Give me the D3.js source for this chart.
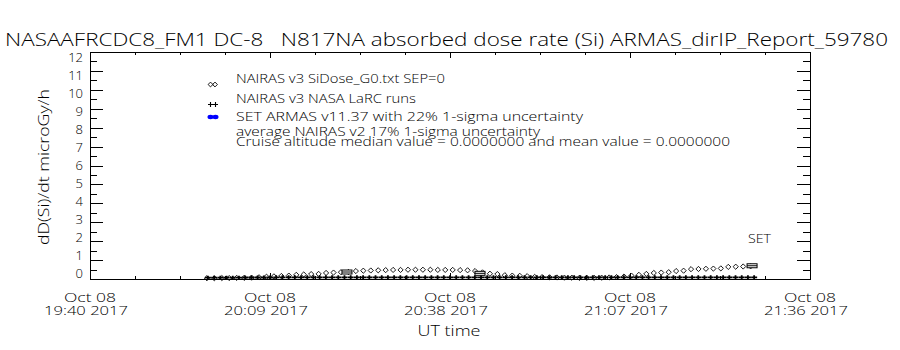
<!DOCTYPE html>
<html>
<head>
<meta charset="utf-8">
<script src="https://cdn.jsdelivr.net/npm/d3@7"></script>
<style>
  body { margin: 0; background: #fff; }
  svg { display: block; }
  text { font-family: "Open Sans", "Liberation Sans", Arial, sans-serif; font-weight: 300; fill: #000; white-space: pre; }
</style>
</head>
<body>
<svg id="chart" width="900" height="350"></svg>
<script>
// ---- chart text ----
const titleText = "NASAAFRCDC8_FM1 DC-8   N817NA absorbed dose rate (Si) ARMAS_dirIP_Report_59780";
const yAxisTitle = "dD(Si)/dt microGy/h";
const xAxisTitle = "UT time";
const setLabel = "SET";

// ---- axes ----
const yTickValues = [0, 1, 2, 3, 4, 5, 6, 7, 8, 9, 10, 11, 12];
const xTickTimes = ["19:40", "20:09", "20:38", "21:07", "21:36"];
const xTickDate = "Oct 08";
const xTickYear = "2017";

// ---- legend ----
const legendLabels = [
  "NAIRAS v3 SiDose_G0.txt SEP=0",
  "NAIRAS v3 NASA LaRC runs",
  "SET ARMAS v11.37 with 22% 1-sigma uncertainty"
];
const noteLines = [
  "average NAIRAS v2 17% 1-sigma uncertainty",
  "Cruise altitude median value = 0.0000000 and mean value = 0.0000000"
];

// ---- NAIRAS v3 SiDose (diamonds) ----
const nairasTimes = [
  "19:58:50","20:00:02","20:01:14","20:02:26","20:03:38","20:04:50","20:06:02","20:07:14",
  "20:08:26","20:09:38","20:10:50","20:12:02","20:13:14","20:14:26","20:15:38","20:16:50",
  "20:18:02","20:19:14","20:20:26","20:21:38","20:22:50","20:24:02","20:25:14","20:26:26",
  "20:27:38","20:28:50","20:30:02","20:31:14","20:32:26","20:33:38","20:34:50","20:36:02",
  "20:37:14","20:38:26","20:39:38","20:40:50","20:42:02","20:43:14","20:44:26","20:45:38",
  "20:46:50","20:48:02","20:49:14","20:50:26","20:51:38","20:52:50","20:54:02","20:55:14",
  "20:56:26","20:57:38","20:58:50","21:00:02","21:01:14","21:02:26","21:03:38","21:04:50",
  "21:06:02","21:07:14","21:08:26","21:09:38","21:10:50","21:12:02","21:13:14","21:14:26",
  "21:15:38","21:16:50","21:18:02","21:19:14","21:20:26","21:21:38","21:22:50","21:24:02",
  "21:25:14","21:26:26"
];
const nairasDose = [
  0.04,0.04,0.05,0.05,0.06,0.06,0.07,0.09,
  0.12,0.14,0.16,0.18,0.22,0.24,0.26,0.27,
  0.32,0.34,0.36,0.37,0.42,0.44,0.45,0.46,
  0.47,0.48,0.48,0.49,0.49,0.49,0.49,0.48,
  0.48,0.48,0.47,0.46,0.42,0.35,0.28,0.26,
  0.20,0.18,0.17,0.15,0.11,0.10,0.09,0.08,
  0.07,0.07,0.06,0.06,0.06,0.07,0.08,0.10,
  0.13,0.18,0.22,0.27,0.32,0.34,0.36,0.42,
  0.44,0.52,0.53,0.54,0.55,0.56,0.64,0.65,
  0.66,0.67
];

// ---- NAIRAS v3 NASA LaRC runs (crosses, one per minute) ----
const larcTimes = [
  "19:59","20:00","20:01","20:02","20:03","20:04","20:05","20:06","20:07","20:08",
  "20:09","20:10","20:11","20:12","20:13","20:14","20:15","20:16","20:17","20:18",
  "20:19","20:20","20:21","20:22","20:23","20:24","20:25","20:26","20:27","20:28",
  "20:29","20:30","20:31","20:32","20:33","20:34","20:35","20:36","20:37","20:38",
  "20:39","20:40","20:41","20:42","20:43","20:44","20:45","20:46","20:47","20:48",
  "20:49","20:50","20:51","20:52","20:53","20:54","20:55","20:56","20:57","20:58",
  "20:59","21:00","21:01","21:02","21:03","21:04","21:05","21:06","21:07","21:08",
  "21:09","21:10","21:11","21:12","21:13","21:14","21:15","21:16","21:17","21:18",
  "21:19","21:20","21:21","21:22","21:23","21:24","21:25","21:26","21:27"
];
const larcDose = [
  0.07,0.07,0.07,0.07,0.07,0.07,0.08,0.08,0.08,0.08,
  0.08,0.09,0.09,0.09,0.09,0.09,0.09,0.09,0.09,0.09,
  0.09,0.09,0.09,0.09,0.09,0.09,0.09,0.09,0.09,0.09,
  0.09,0.09,0.09,0.09,0.09,0.09,0.09,0.09,0.09,0.09,
  0.09,0.09,0.09,0.09,0.09,0.09,0.09,0.09,0.09,0.09,
  0.09,0.09,0.09,0.09,0.09,0.09,0.09,0.09,0.09,0.09,
  0.09,0.09,0.09,0.09,0.09,0.09,0.09,0.09,0.09,0.09,
  0.09,0.09,0.09,0.09,0.09,0.09,0.09,0.09,0.09,0.09,
  0.09,0.09,0.09,0.09,0.09,0.09,0.09,0.09,0.09
];

// ---- SET ARMAS measurements ----
const armasTimes = ["20:21:24", "20:42:50", "21:26:40"];
const armasDose = [0.37, 0.30, 0.70];

// ---- layout ----
const svg = d3.select("#chart");
const M = { left: 90, right: 810, top: 52, bottom: 279 };
const day = "2017-10-08T";
const parseT = s => new Date(day + (s.length === 5 ? s + ":00" : s) + "Z");

const x = d3.scaleUtc()
  .domain([parseT(xTickTimes[0]), parseT(xTickTimes[xTickTimes.length - 1])])
  .range([M.left, M.right]);
const y = d3.scaleLinear().domain([0, 12]).range([M.bottom, M.top]);
// tick labels sit on a slightly compressed ladder inside the frame
const yLab = d3.scaleLinear().domain([0, 12]).range([273, 57]);

const g = svg.append("g").attr("shape-rendering", "crispEdges");
const px = v => Math.round(v) + 0.5;

// frame
g.append("rect")
  .attr("x", px(M.left)).attr("y", px(M.top))
  .attr("width", M.right - M.left).attr("height", M.bottom - M.top)
  .attr("fill", "none").attr("stroke", "#000");

// y ticks, left and right, major at integers and minor at halves
const yMinor = yTickValues.slice(0, -1).map(v => v + 0.5);
function yTickMarks(vals, len) {
  vals.forEach(v => {
    const yy = px(y(v));
    g.append("line").attr("x1", M.left).attr("x2", M.left + len)
      .attr("y1", yy).attr("y2", yy).attr("stroke", "#000");
    g.append("line").attr("x1", M.right - len).attr("x2", M.right)
      .attr("y1", yy).attr("y2", yy).attr("stroke", "#000");
  });
}
yTickMarks(yTickValues, 13);
yTickMarks(yMinor, 7);

svg.selectAll(".ylab").data(yTickValues).join("text")
  .attr("x", 83).attr("y", d => yLab(d))
  .attr("text-anchor", "end").attr("dominant-baseline", "central")
  .attr("font-size", 13)
  .text(d => d);

// x ticks, top and bottom
const majorT = xTickTimes.map(parseT);
const minorT = [];
for (let i = 0; i < majorT.length - 1; i++) {
  const a = +majorT[i], b = +majorT[i + 1];
  for (let k = 1; k < 4; k++) minorT.push(new Date(a + (b - a) * k / 4));
}
function xTickMarks(vals, len) {
  vals.forEach(t => {
    const xx = px(x(t));
    g.append("line").attr("x1", xx).attr("x2", xx)
      .attr("y1", M.bottom).attr("y2", M.bottom - len).attr("stroke", "#000");
    g.append("line").attr("x1", xx).attr("x2", xx)
      .attr("y1", M.top).attr("y2", M.top + len).attr("stroke", "#000");
  });
}
xTickMarks(majorT, 6);
xTickMarks(minorT, 3);

// two-line tick labels: date above, time and year below
const xl = svg.selectAll(".xlab").data(xTickTimes).join("text")
  .attr("class", "xlab")
  .attr("transform", d => `translate(${x(parseT(d))},0)`)
  .attr("text-anchor", "middle").attr("font-size", 13);
xl.append("tspan").attr("x", 0).attr("y", 301.5)
  .attr("textLength", 52).attr("lengthAdjust", "spacingAndGlyphs")
  .text(xTickDate);
xl.append("tspan").attr("x", -4).attr("y", 315)
  .attr("textLength", 84).attr("lengthAdjust", "spacingAndGlyphs")
  .text(d => d + " " + xTickYear);

// axis titles
svg.append("text").attr("x", 449).attr("y", 336).attr("text-anchor", "middle")
  .attr("font-size", 15).attr("textLength", 63).attr("lengthAdjust", "spacingAndGlyphs")
  .text(xAxisTitle);
svg.append("text").attr("transform", "translate(49,167) rotate(-90)")
  .attr("text-anchor", "middle").attr("font-size", 15)
  .attr("textLength", 156).attr("lengthAdjust", "spacingAndGlyphs")
  .text(yAxisTitle);

// title
svg.append("text").attr("x", 5).attr("y", 45.5)
  .attr("font-size", 18).attr("textLength", 883).attr("lengthAdjust", "spacingAndGlyphs")
  .text(titleText);

// ---- marks ----
const diamond = (cx, cy, r) => `M${cx},${cy - r}L${cx + r},${cy}L${cx},${cy + r}L${cx - r},${cy}Z`;
const plus = (cx, cy, rx, ry) => `M${cx - rx},${cy}H${cx + rx}M${cx},${cy - ry}V${cy + ry}`;

const marks = svg.append("g");
marks.selectAll(".nai").data(nairasDose).join("path")
  .attr("d", (d, i) => diamond(x(parseT(nairasTimes[i])), y(d), 2.6))
  .attr("stroke", "#000").attr("stroke-width", 0.9).attr("fill", "none");

marks.selectAll(".larc").data(larcDose).join("path")
  .attr("d", (d, i) => plus(x(parseT(larcTimes[i])), y(d), 3, 2))
  .attr("stroke", "#000").attr("stroke-width", 1.8).attr("fill", "none");

// SET ARMAS points with 22% uncertainty bars
const armas = marks.selectAll(".armas").data(armasDose).join("g")
  .attr("transform", (d, i) => `translate(${x(parseT(armasTimes[i]))},${y(d)})`);
armas.append("rect").attr("x", -5).attr("y", -2).attr("width", 10).attr("height", 4)
  .attr("fill", "#fff").attr("stroke", "#000").attr("stroke-width", 1);
armas.append("line").attr("x1", -5).attr("x2", 5).attr("y1", 0).attr("y2", 0)
  .attr("stroke", "#000");

svg.append("text").attr("x", 748).attr("y", 243).attr("font-size", 13)
  .attr("textLength", 23).attr("lengthAdjust", "spacingAndGlyphs").text(setLabel);

// ---- legend ----
const legX = 236;
const legBase = [83, 102.5, 120.5];
const legLen = [209, 180, 347];
legendLabels.forEach((t, i) => {
  svg.append("text").attr("x", legX).attr("y", legBase[i])
    .attr("font-size", 12).attr("textLength", legLen[i]).attr("lengthAdjust", "spacingAndGlyphs")
    .text(t);
});
// uncertainty note and cruise statistics, set tight under the legend
const note = svg.append("text").attr("font-size", 12);
const noteBase = [135.5, 145.5];
const noteLen = [304, 494];
noteLines.forEach((t, i) => {
  note.append("tspan").attr("x", legX).attr("y", noteBase[i])
    .attr("textLength", noteLen[i]).attr("lengthAdjust", "spacingAndGlyphs")
    .text(t);
});

const lg = svg.append("g");
[210.5, 215].forEach(cx => lg.append("path").attr("d", diamond(cx, 84.5, 2.4))
  .attr("stroke", "#000").attr("stroke-width", 0.9).attr("fill", "none"));
[210.5, 215.5].forEach(cx => lg.append("path").attr("d", plus(cx, 104.5, 2.5, 2.5))
  .attr("stroke", "#000").attr("stroke-width", 1.1).attr("fill", "none"));
[210.5, 215.5].forEach(cx => lg.append("ellipse").attr("cx", cx).attr("cy", 117)
  .attr("rx", 3).attr("ry", 2.2).attr("fill", "#0000ff"));
</script>
</body>
</html>
